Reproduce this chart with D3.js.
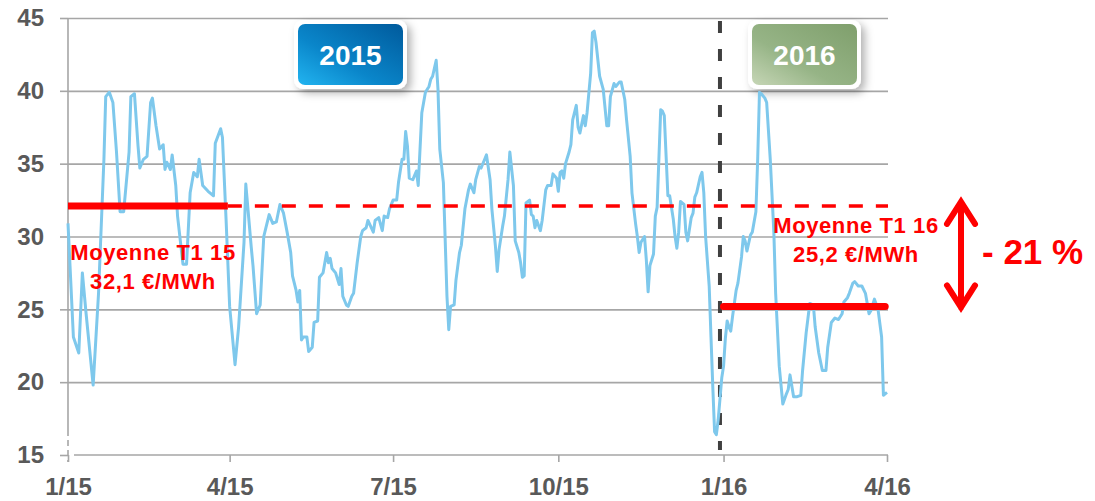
<!DOCTYPE html>
<html>
<head>
<meta charset="utf-8">
<script src="https://cdn.jsdelivr.net/npm/d3@7"></script>
<style>
  body { margin: 0; background: #fff; }
  text { font-family: "Liberation Sans", Arial, sans-serif; font-weight: bold; }
</style>
</head>
<body>
<script>
	// data: days since 1 Jan 2015 and daily price (€/MWh)
	var startDate = new Date(2015, 0, 1);
	var dayOffsets = [0,3,6,8,10,14,17,20,21,23,25,27,29,31,34,35,37,39,40,42,44,46,47,49,51,53,54,55,57,58,60,61,64,66,68,70,72,73,75,78,81,82,85,86,88,
		90,93,95,98,99,102,103,105,107,109,110,112,114,116,118,120,122,124,125,127,128,129,130,131,133,134,136,137,139,140,142,144,145,146,147,149,151,152,153,155,156,158,159,161,163,164,166,167,170,171,173,175,176,178,179,181,183,184,186,187,188,189,190,192,194,195,
		197,199,201,202,203,205,206,207,209,210,211,212,213,215,216,218,219,221,223,224,226,227,229,230,232,233,235,236,238,239,240,242,243,245,246,248,249,251,252,253,254,255,257,258,259,260,261,263,264,266,267,269,270,272,273,274,275,276,277,279,280,281,283,284,285,287,288,289,
		291,292,293,294,296,298,300,301,302,304,305,307,308,310,311,313,314,316,317,318,319,321,322,323,324,326,327,328,330,331,332,334,335,337,338,339,340,341,343,344,345,347,348,349,350,352,353,354,355,357,358,359,360,361,362,364,365,366,367,368,369,370,372,373,375,376,377,378,380,381,383,384,385,386,388,389,391,393,394,396,398,
		400,401,402,404,406,408,409,411,413,415,416,418,420,422,423,425,427,429,431,432,434,435,437,438,440,442,444,446,447,449,451,453,454,455,456];
	var prices = [30.9,23.1,22.0,27.5,24.8,19.8,26.1,35.3,39.6,39.9,39.2,35.8,31.7,31.7,35.8,39.6,39.8,36.2,34.7,35.3,35.5,39.2,39.5,37.6,36.0,36.3,34.6,35.1,34.6,35.6,33.5,31.4,28.1,28.1,33.0,34.4,34.1,35.3,33.5,33.1,32.8,36.4,37.4,36.8,31.2,
		25.2,21.2,23.8,29.6,33.6,29.3,28.0,24.7,25.3,30.0,30.5,31.5,30.9,31.0,32.2,31.6,30.3,28.9,27.3,26.3,25.5,26.3,22.9,23.1,23.1,22.1,22.4,24.1,24.2,27.2,27.5,28.9,28.2,28.5,27.8,27.5,26.7,27.8,25.9,25.3,25.2,25.9,26.1,28.2,30.0,30.4,30.6,31.1,30.3,31.1,31.3,30.4,31.4,31.3,31.9,32.5,32.5,33.7,35.3,35.3,37.2,36.2,34.0,33.9,34.5,33.5,
		38.5,39.9,40.3,40.8,41.0,42.1,40.1,36.0,33.7,29.8,25.9,23.6,25.2,25.3,27.0,28.9,29.4,31.9,33.2,33.6,33.0,33.9,34.8,34.7,35.3,35.6,33.9,31.9,29.3,27.6,29.1,30.7,31.4,33.9,35.8,33.5,29.7,28.9,28.2,27.2,27.3,32.3,32.5,31.5,31.4,30.6,31.1,30.4,31.1,33.2,33.5,33.5,34.3,34.0,33.1,34.4,34.5,34.0,35.0,35.8,36.3,38.0,39.0,37.5,37.1,38.3,37.6,38.5,
		41.2,44.0,44.1,43.3,41.0,40.1,37.6,37.6,39.6,40.5,40.3,40.6,40.6,39.4,38.0,35.5,33.0,30.9,30.0,28.9,29.6,30.0,28.4,26.2,28.0,28.8,31.4,32.0,38.7,38.6,38.3,32.8,32.8,31.2,30.0,29.2,30.3,32.4,32.2,30.3,29.7,31.3,31.6,32.7,33.0,34.1,34.4,33.0,30.0,26.6,23.1,19.7,16.6,16.4,17.4,20.3,21.1,23.0,24.2,23.8,23.5,24.5,26.3,26.8,28.6,30.0,29.7,29.0,30.1,30.3,31.7,35.3,39.9,39.8,39.5,39.2,35.3,30.3,26.1,21.1,18.5,
		19.2,19.5,20.5,19.0,19.0,19.1,20.8,23.4,25.4,25.3,23.8,22.0,20.8,20.8,22.4,24.1,24.4,24.3,24.7,25.5,25.8,26.1,26.8,26.9,26.6,26.6,26.1,24.7,24.9,25.7,25.0,23.1,19.1,19.2,19.3];

	// quarterly averages
	var meanLabels = ["Moyenne T1 15", "Moyenne T1 16"];
	var meanValueLabels = ["32,1 €/MWh", "25,2 €/MWh"];
	var meanValues = [32.1, 25.2];
	var meanStarts = [new Date(2015, 0, 1), new Date(2016, 0, 1)];
	var meanEnds = [new Date(2015, 2, 31), new Date(2016, 2, 31)];
	var changeLabel = "- 21 %";
	var yearLabels = ["2015", "2016"];
	var yearDividerDate = new Date(2015, 11, 30);

	// axes ticks
	var yTicks = [15, 20, 25, 30, 35, 40, 45];
	var xTickDates = [new Date(2015,0,1), new Date(2015,3,1), new Date(2015,6,1), new Date(2015,9,1), new Date(2016,0,1), new Date(2016,3,1)];
	var xTickLabels = ["1/15", "4/15", "7/15", "10/15", "1/16", "4/16"];

	var width = 1095, height = 501;
	var plot = {left: 68, right: 887, top: 18, bottom: 455};

	var svg = d3.select("body").append("svg")
		.attr("width", width)
		.attr("height", height);

	var defs = svg.append("defs");
	// year box gradients
	var g1 = defs.append("linearGradient").attr("id", "blue").attr("x1", 0).attr("y1", 1).attr("x2", 1).attr("y2", 0);
	g1.append("stop").attr("offset", "0").attr("stop-color", "#22b4f0");
	g1.append("stop").attr("offset", "0.4").attr("stop-color", "#0a86ca");
	g1.append("stop").attr("offset", "1").attr("stop-color", "#005a9c");
	var g2 = defs.append("linearGradient").attr("id", "green").attr("x1", 0).attr("y1", 1).attr("x2", 1).attr("y2", 0);
	g2.append("stop").attr("offset", "0").attr("stop-color", "#c6d6b6");
	g2.append("stop").attr("offset", "0.4").attr("stop-color", "#96b486");
	g2.append("stop").attr("offset", "1").attr("stop-color", "#7f9f6c");
	var shadow = defs.append("filter").attr("id", "shadow").attr("x", "-30%").attr("y", "-30%").attr("width", "160%").attr("height", "160%");
	shadow.append("feDropShadow").attr("dx", 4).attr("dy", 4).attr("stdDeviation", 4).attr("flood-color", "#000").attr("flood-opacity", 0.3);

	var x = d3.scaleTime()
		.domain([new Date(2015, 0, 1), new Date(2016, 3, 1)])
		.range([plot.left, plot.right]);

	var y = d3.scaleLinear()
		.domain([15, 45])
		.range([plot.bottom, plot.top]);

	// horizontal gridlines
	svg.append("g")
		.attr("transform", "translate(" + plot.left + ",0)")
		.call(d3.axisLeft(y).tickValues(yTicks.slice(1)).tickSize(-(plot.right - plot.left + 1)).tickFormat(""))
		.call(function(g){ g.select(".domain").remove(); })
		.selectAll("line")
		.attr("stroke", "#a6a6a6")
		.attr("stroke-width", 1.6);

	// y axis labels
	var yAxis = svg.append("g")
		.attr("transform", "translate(" + plot.left + ",0)")
		.call(d3.axisLeft(y).tickValues(yTicks).tickSize(8).tickPadding(16));
	yAxis.select(".domain").remove();
	yAxis.selectAll("line").attr("stroke", "#a6a6a6").attr("stroke-width", 1.6);
	yAxis.selectAll("text").attr("fill", "#595959").style("font-size", "24px");

	// y axis line (solid, then dashed at the bottom)
	svg.append("line")
		.attr("x1", plot.left).attr("x2", plot.left)
		.attr("y1", plot.top).attr("y2", 430)
		.attr("stroke", "#a6a6a6").attr("stroke-width", 1.6);
	svg.append("line")
		.attr("x1", plot.left).attr("x2", plot.left)
		.attr("y1", 430).attr("y2", 462)
		.attr("stroke", "#a6a6a6").attr("stroke-width", 1.6)
		.attr("stroke-dasharray", "6,4");

	// x axis
	var xAxis = svg.append("g")
		.attr("transform", "translate(0," + plot.bottom + ")")
		.call(d3.axisBottom(x).tickValues(xTickDates).tickSize(7).tickPadding(16)
			.tickFormat(function(d, i){ return xTickLabels[i]; }));
	xAxis.select(".domain").attr("stroke", "#a6a6a6").attr("stroke-width", 1.6)
		.attr("d", "M" + (plot.left + 6) + ",0H" + (plot.right + 1));
	xAxis.selectAll("line").attr("stroke", "#a6a6a6").attr("stroke-width", 1.6);
	xAxis.selectAll("text").attr("fill", "#595959").style("font-size", "24px");

	// year boxes
	var boxX = [298, 752];
	var boxes = svg.selectAll(".yearBox")
		.data(yearLabels)
		.enter()
		.append("g")
		.attr("class", "yearBox")
		.attr("transform", function(d, i){ return "translate(" + boxX[i] + ",24)"; });
	boxes.append("rect")
		.attr("x", -4).attr("y", -4)
		.attr("width", 113).attr("height", 69)
		.attr("rx", 9)
		.attr("fill", "#fff")
		.attr("filter", "url(#shadow)");
	boxes.append("rect")
		.attr("width", 105).attr("height", 61)
		.attr("rx", 7)
		.attr("fill", function(d, i){ return i == 0 ? "url(#blue)" : "url(#green)"; });
	boxes.append("text")
		.attr("x", 52.5).attr("y", 41)
		.attr("text-anchor", "middle")
		.attr("fill", "#fff")
		.style("font-size", "28px")
		.text(function(d){ return d; });

	// dashed divider between years
	svg.append("line")
		.attr("x1", x(yearDividerDate)).attr("x2", x(yearDividerDate))
		.attr("y1", 21).attr("y2", 450)
		.attr("stroke", "#404040").attr("stroke-width", 4)
		.attr("stroke-dasharray", "12,16");

	// price line
	var line = d3.line()
		.x(function(d){ return x(d3.timeDay.offset(startDate, d)); })
		.y(function(d, i){ return y(prices[i]); });

	svg.append("path")
		.datum(dayOffsets)
		.attr("d", line)
		.attr("fill", "none")
		.attr("stroke", "#7ec8ec")
		.attr("stroke-width", 3)
		.attr("stroke-linejoin", "round");

	// dashed continuation of Q1 2015 average
	svg.append("line")
		.attr("x1", x(meanEnds[0])).attr("x2", plot.right + 1)
		.attr("y1", y(meanValues[0])).attr("y2", y(meanValues[0]))
		.attr("stroke", "#ff0000").attr("stroke-width", 3.5)
		.attr("stroke-dasharray", "14,13");

	// quarterly average bars
	svg.selectAll(".meanLine")
		.data(meanValues)
		.enter()
		.append("line")
		.attr("class", "meanLine")
		.attr("x1", function(d, i){ return x(meanStarts[i]); })
		.attr("x2", function(d, i){ return x(meanEnds[i]); })
		.attr("y1", function(d){ return y(d); })
		.attr("y2", function(d){ return y(d); })
		.attr("stroke", "#ff0000")
		.attr("stroke-width", 7)
		.attr("stroke-linecap", function(d, i){ return i == 0 ? "butt" : "round"; });

	// average labels
	var labelX = [153, 856];
	var labelY = [260, 233];
	var labels = svg.selectAll(".meanLabel")
		.data(meanLabels)
		.enter()
		.append("text")
		.attr("class", "meanLabel")
		.attr("text-anchor", "middle")
		.attr("fill", "#ff0000")
		.style("font-size", "22px")
		.style("letter-spacing", "0.6px");
	labels.append("tspan")
		.attr("x", function(d, i){ return labelX[i]; })
		.attr("y", function(d, i){ return labelY[i]; })
		.text(function(d){ return d; });
	labels.append("tspan")
		.attr("x", function(d, i){ return labelX[i]; })
		.attr("y", function(d, i){ return labelY[i] + 29; })
		.text(function(d, i){ return meanValueLabels[i]; });

	// double arrow showing the change
	var ax = 961;
	var aTop = y(meanValues[0]) - 4, aBot = y(meanValues[1]) + 1;
	svg.append("path")
		.attr("d", "M" + ax + "," + aTop + "V" + aBot
			+ "M" + (ax - 14) + "," + (aTop + 22) + "L" + ax + "," + aTop + "L" + (ax + 14) + "," + (aTop + 22)
			+ "M" + (ax - 14) + "," + (aBot - 22) + "L" + ax + "," + aBot + "L" + (ax + 14) + "," + (aBot - 22))
		.attr("fill", "none")
		.attr("stroke", "#ff0000")
		.attr("stroke-width", 6)
		.attr("stroke-linecap", "round")
		.attr("stroke-linejoin", "miter");

	svg.append("text")
		.attr("x", 982).attr("y", 264)
		.attr("fill", "#ff0000")
		.style("font-size", "35px")
		.text(changeLabel);
</script>
</body>
</html>
